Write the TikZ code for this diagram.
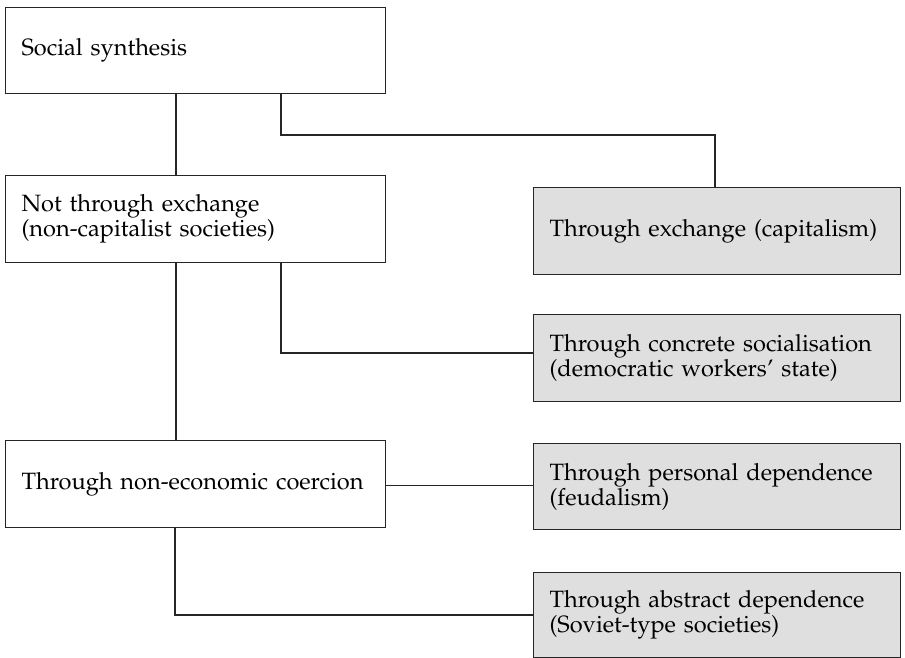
\documentclass[tikz,border=0pt]{standalone}
\usepackage[T1]{fontenc}
\usepackage{mathpazo}
\begin{document}
\begin{tikzpicture}[x=1pt,y=1pt,
  box/.style={draw=black!85, line width=1.1pt, rectangle, anchor=north west,
    inner xsep=16pt, inner ysep=0pt, minimum height=86pt, align=left,
    font=\fontsize{23.6}{25}\selectfont},
  wbox/.style={box, fill=white, text width=348pt},
  gbox/.style={box, fill=gray!25, text width=335pt},
  link/.style={draw=black!85, line width=1.1pt}]
\useasboundingbox (0,0) rectangle (905,-658);
\node[wbox] (b1) at (5,-7) {Social synthesis};
\node[wbox, minimum height=87pt] (b2) at (5,-175) {Not through exchange\\(non-capitalist societies)};
\node[gbox, minimum height=87pt] (b3) at (533,-187) {Through exchange (capitalism)};
\node[gbox, minimum height=87pt] (b4) at (533,-314) {Through concrete socialisation\\(democratic workers' state)};
\node[wbox, minimum height=87pt] (b5) at (5,-440) {Through non-economic coercion};
\node[gbox] (b6) at (533,-443) {Through personal dependence\\(feudalism)};
\node[gbox, minimum height=85pt] (b7) at (533,-572) {Through abstract dependence\\(Soviet-type societies)};
\draw[link] ([xshift=171pt]b1.south west) -- ([xshift=171pt]b2.north west);
\draw[link] ([xshift=276pt]b1.south west) |- ([xshift=182pt,yshift=52pt]b3.north west) -- ([xshift=182pt]b3.north west);
\draw[link] ([xshift=171pt]b2.south west) -- ([xshift=171pt]b5.north west);
\draw[link] ([xshift=276pt]b2.south west) |- ([yshift=-39pt]b4.north west);
\draw[link, line width=1.3pt] ([yshift=1.2pt]b5.east |- b6.west) -- ([yshift=1.2pt]b6.west);
\draw[link] ([xshift=170pt]b5.south west) |- ([yshift=-43pt]b7.north west);
\end{tikzpicture}
\end{document}
